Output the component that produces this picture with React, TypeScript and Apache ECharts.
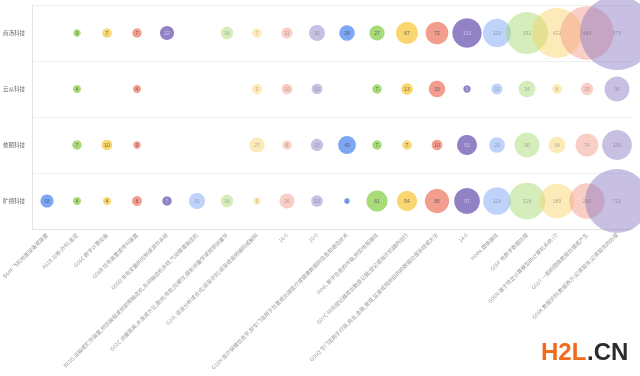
import React, { useEffect, useRef } from "react";
import * as echarts from "echarts";

const companies = ["旷视科技", "依图科技", "云从科技", "商汤科技"];

const ipcLabels = [
  "B64F 飞机地面设备或装置",
  "A61B 诊断;外科;鉴定",
  "G06C 数字计算设备",
  "G08B 信号装置或呼叫装置",
  "G05D 非电变量的控制或调节系统",
  "B65G 运输或贮存装置,例如装载或倾卸用输送机,车间输送机系统,气动管道输送机",
  "G01C 测量距离,水准或方位;勘测;导航;陀螺仪;摄影测量学或视频测量学",
  "G10L 语音分析或合成;语音识别;语音或音频编码或解码",
  "16-0",
  "10-0",
  "G16H 医疗保健信息学,即专门适用于处置或处理医疗或健康数据的信息和通信技术",
  "H04L 数字信息的传输,例如电报通信",
  "G07C 时间登记器或出勤登记器;登记或指示机器的运行",
  "G06Q 专门适用于行政,商业,金融,管理,监督或预测目的的数据处理系统或方法",
  "14-0",
  "H04N 图像通信",
  "G06F 电数字数据处理",
  "G06N 基于特定计算模型的计算机系统 (7)",
  "G06T 一般的图像数据处理或产生",
  "G06K 数据识别;数据表示;记录载体;记录载体的处理",
];

// values per IPC column (null = no patents)
const shangtang = [null, 3, 7, 7, 22, null, 16, 7, 11, 30, 28, 27, 67, 72, 131, 120, 291, 422, 486, 975];
const yuncong = [null, 4, null, 4, null, null, null, 9, 10, 10, null, 7, 13, 33, 3, 11, 34, 8, 15, 90];
const yitu = [null, 7, 10, 3, null, null, null, 27, 6, 15, 40, 7, 7, 10, 53, 29, 90, 34, 74, 136];
const kuangshi = [18, 4, 4, 8, 7, 31, 16, 3, 26, 13, 1, 61, 54, 85, 97, 114, 216, 189, 200, 712];

const baseColors = ["#6f9cf3", "#9fd869", "#f9d262", "#f29282", "#8674bf"];

export default function App() {
  const ref = useRef<HTMLDivElement>(null);
  useEffect(() => {
    if (!ref.current) return;
    const chart = echarts.init(ref.current, null, { renderer: "svg" });
    const rows = [kuangshi, yitu, yuncong, shangtang];
    const data: any[] = [];
    rows.forEach((row, r) => {
      row.forEach((v, c) => {
        if (v === null || v === undefined) return;
        const light = c % 10 >= 5;
        const col = baseColors[c % 5];
        data.push({
          value: [c, r, v],
          itemStyle: { color: col, opacity: light ? 0.45 : 0.9 },
          label: { color: c % 5 === 4 && !light ? "#d8d0f0" : "#555" },
        });
      });
    });
    chart.setOption({
      animation: false,
      grid: { left: 32, right: 8, top: 5, bottom: 147, outerBoundsMode: "none", containLabel: false },
      xAxis: {
        type: "category",
        data: ipcLabels,
        boundaryGap: true,
        axisLine: { lineStyle: { color: "#e3e3e3" } },
        axisTick: { lineStyle: { color: "#e3e3e3" }, length: 3 },
        axisLabel: {
          rotate: 45,
          interval: 0,
          fontSize: 5.3,
          color: "#9a9a9a",
          margin: 5,
          fontFamily: "Noto Sans CJK SC",
        },
        splitLine: { show: false },
      },
      yAxis: {
        type: "category",
        data: companies,
        boundaryGap: true,
        axisLine: { show: true, lineStyle: { color: "#e3e3e3" } },
        axisTick: { show: false },
        axisLabel: { fontSize: 5.5, color: "#666", margin: 7, fontFamily: "Noto Sans CJK SC" },
        splitLine: { show: true, lineStyle: { color: "#efefef" } },
      },
      series: [
        {
          type: "scatter",
          data,
          symbolSize: (val: number[]) => 3.5 + 2.26 * Math.sqrt(val[2]),
          label: {
            show: true,
            position: "inside",
            fontSize: 5,
            formatter: (p: any) => String(p.value[2]),
          },
        },
      ],
      graphic: [
        {
          type: "text",
          left: 541,
          top: 339,
          style: {
            text: "H2L",
            fill: "#f26a1b",
            font: "bold 24px 'Liberation Sans', Arial, sans-serif",
          },
        },
        {
          type: "text",
          left: 587,
          top: 339,
          style: {
            text: ".CN",
            fill: "#2b2b2b",
            font: "bold 24px 'Liberation Sans', Arial, sans-serif",
          },
        },
      ],
    });
    return () => chart.dispose();
  }, []);
  return (
    <div
      ref={ref}
      style={{ position: "fixed", left: 0, top: 0, width: 640, height: 376 }}
    />
  );
}
